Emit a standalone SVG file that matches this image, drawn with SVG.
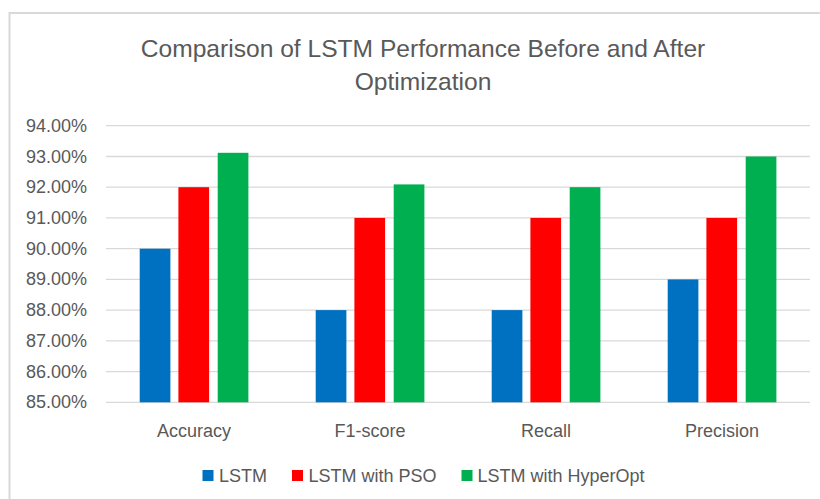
<svg xmlns="http://www.w3.org/2000/svg" width="820" height="499" viewBox="0 0 820 499">
  <style>
    text { font-family: "Liberation Sans", Arial, sans-serif; fill: #595959; }
    .title { font-size: 24.6px; text-anchor: middle; }
    .ytick { font-size: 18px; text-anchor: end; }
    .cat { font-size: 18px; text-anchor: middle; }
    .leg { font-size: 18px; }
    .grid { stroke: #D9D9D9; stroke-width: 1.3; fill: none; }
    .lstm { fill: #0070C0; }
    .pso { fill: #FF0000; }
    .hyper { fill: #00B050; }
  </style>
  <rect x="0" y="0" width="820" height="499" fill="#ffffff"/>
  <path d="M9.5,499 V13 H820" fill="none" stroke="#D9D9D9" stroke-width="2"/>

  <g id="title">
    <text class="title" x="423" y="57">Comparison of LSTM Performance Before and After</text>
    <text class="title" x="423" y="90">Optimization</text>
  </g>

  <g id="gridlines">
    <line class="grid" x1="106" y1="125.7" x2="810" y2="125.7"/>
    <line class="grid" x1="106" y1="156.5" x2="810" y2="156.5"/>
    <line class="grid" x1="106" y1="187.2" x2="810" y2="187.2"/>
    <line class="grid" x1="106" y1="217.9" x2="810" y2="217.9"/>
    <line class="grid" x1="106" y1="248.7" x2="810" y2="248.7"/>
    <line class="grid" x1="106" y1="279.4" x2="810" y2="279.4"/>
    <line class="grid" x1="106" y1="310.1" x2="810" y2="310.1"/>
    <line class="grid" x1="106" y1="340.8" x2="810" y2="340.8"/>
    <line class="grid" x1="106" y1="371.6" x2="810" y2="371.6"/>
    <line class="grid" x1="106" y1="402.3" x2="810" y2="402.3"/>
  </g>

  <g id="y-axis">
    <text class="ytick" x="87" y="131.7">94.00%</text>
    <text class="ytick" x="87" y="162.5">93.00%</text>
    <text class="ytick" x="87" y="193.2">92.00%</text>
    <text class="ytick" x="87" y="223.9">91.00%</text>
    <text class="ytick" x="87" y="254.7">90.00%</text>
    <text class="ytick" x="87" y="285.4">89.00%</text>
    <text class="ytick" x="87" y="316.1">88.00%</text>
    <text class="ytick" x="87" y="346.8">87.00%</text>
    <text class="ytick" x="87" y="377.6">86.00%</text>
    <text class="ytick" x="87" y="408.3">85.00%</text>
  </g>

  <g id="bars">
    <g id="accuracy">
      <rect class="lstm" x="139.7" y="248.7" width="30.7" height="153.6"/>
      <rect class="pso" x="178.4" y="187.2" width="30.7" height="215.1"/>
      <rect class="hyper" x="217.7" y="152.8" width="30.7" height="249.5"/>
    </g>
    <g id="f1-score">
      <rect class="lstm" x="315.7" y="310.1" width="30.7" height="92.2"/>
      <rect class="pso" x="354.4" y="217.9" width="30.7" height="184.4"/>
      <rect class="hyper" x="393.7" y="184.4" width="30.7" height="217.9"/>
    </g>
    <g id="recall">
      <rect class="lstm" x="491.7" y="310.1" width="30.7" height="92.2"/>
      <rect class="pso" x="530.4" y="217.9" width="30.7" height="184.4"/>
      <rect class="hyper" x="569.7" y="187.2" width="30.7" height="215.1"/>
    </g>
    <g id="precision">
      <rect class="lstm" x="667.7" y="279.4" width="30.7" height="122.9"/>
      <rect class="pso" x="706.4" y="217.9" width="30.7" height="184.4"/>
      <rect class="hyper" x="745.7" y="156.5" width="30.7" height="245.8"/>
    </g>
  </g>

  <g id="x-axis">
    <text class="cat" x="194" y="437">Accuracy</text>
    <text class="cat" x="370" y="437">F1-score</text>
    <text class="cat" x="546" y="437">Recall</text>
    <text class="cat" x="722" y="437">Precision</text>
  </g>

  <g id="legend">
    <g id="legend-lstm">
      <rect class="lstm" x="202.5" y="470" width="11" height="11"/>
      <text class="leg" x="219" y="481.5">LSTM</text>
    </g>
    <g id="legend-pso">
      <rect class="pso" x="292" y="470" width="11" height="11"/>
      <text class="leg" x="308.5" y="481.5">LSTM with PSO</text>
    </g>
    <g id="legend-hyperopt">
      <rect class="hyper" x="461.5" y="470" width="11" height="11"/>
      <text class="leg" x="477.5" y="481.5">LSTM with HyperOpt</text>
    </g>
  </g>
</svg>
